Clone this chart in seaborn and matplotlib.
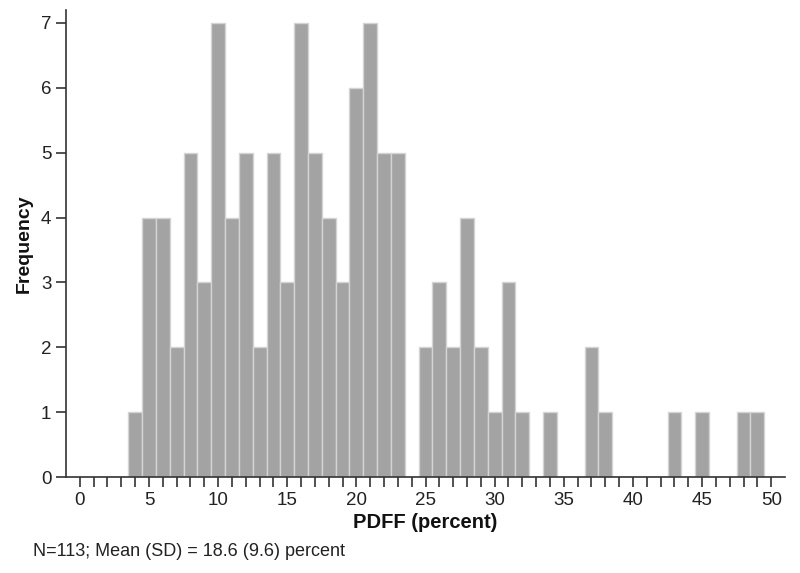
import numpy as np
import matplotlib
matplotlib.use("Agg")
import matplotlib.pyplot as plt
import seaborn as sns

# --- data (bin centre, count) ---
pdff_centres = [4, 5, 6, 7, 8, 9, 10, 11, 12, 13, 14, 15, 16, 17, 18, 19, 20, 21, 22, 23,
                25, 26, 27, 28, 29, 30, 31, 32, 34, 37, 38, 43, 45, 48, 49]
frequency = [1, 4, 4, 2, 5, 3, 7, 4, 5, 2, 5, 3, 7, 5, 4, 3, 6, 7, 5, 5,
             2, 3, 2, 4, 2, 1, 3, 1, 1, 2, 1, 1, 1, 1, 1]
x_major = [0, 5, 10, 15, 20, 25, 30, 35, 40, 45, 50]
y_ticks = [0, 1, 2, 3, 4, 5, 6, 7]
note = "N=113; Mean (SD) = 18.6 (9.6) percent"

sns.set_style("ticks")
plt.rcParams['font.family'] = ['Liberation Sans', 'DejaVu Sans']

fig = plt.figure(figsize=(8, 5.73), dpi=100)
ax = fig.add_axes([0.0825, 0.1675, 0.8988, 0.815])

sns.histplot(x=pdff_centres, weights=frequency, binwidth=1, binrange=(-0.5, 50.5),
             color="#a3a3a3", edgecolor="#d4d4d4", linewidth=1.0, alpha=1.0, ax=ax)

ax.set_xlim(-1, 51)
ax.set_ylim(0, 7.2)
ax.set_xticks(x_major)
ax.set_xticks(np.arange(0, 51, 1), minor=True)
ax.set_yticks(y_ticks)
ax.tick_params(axis="both", which="both", direction="out", length=7, width=1.2,
               color="#333333", labelsize=13.5, labelcolor="#222222")
ax.tick_params(axis="x", which="major", pad=4)
for s in ["top", "right"]:
    ax.spines[s].set_visible(False)
for s in ["left", "bottom"]:
    ax.spines[s].set_linewidth(1.2)
    ax.spines[s].set_color("#333333")

ax.set_xlabel("PDFF (percent)", fontsize=14.5, fontweight="bold", labelpad=3, color="#111111")
ax.set_ylabel("Frequency", fontsize=14, fontweight="bold", labelpad=6, color="#111111")

fig.text(0.041, 0.03, note, fontsize=13, color="#222222")

fig.savefig("out.png", dpi=100)
